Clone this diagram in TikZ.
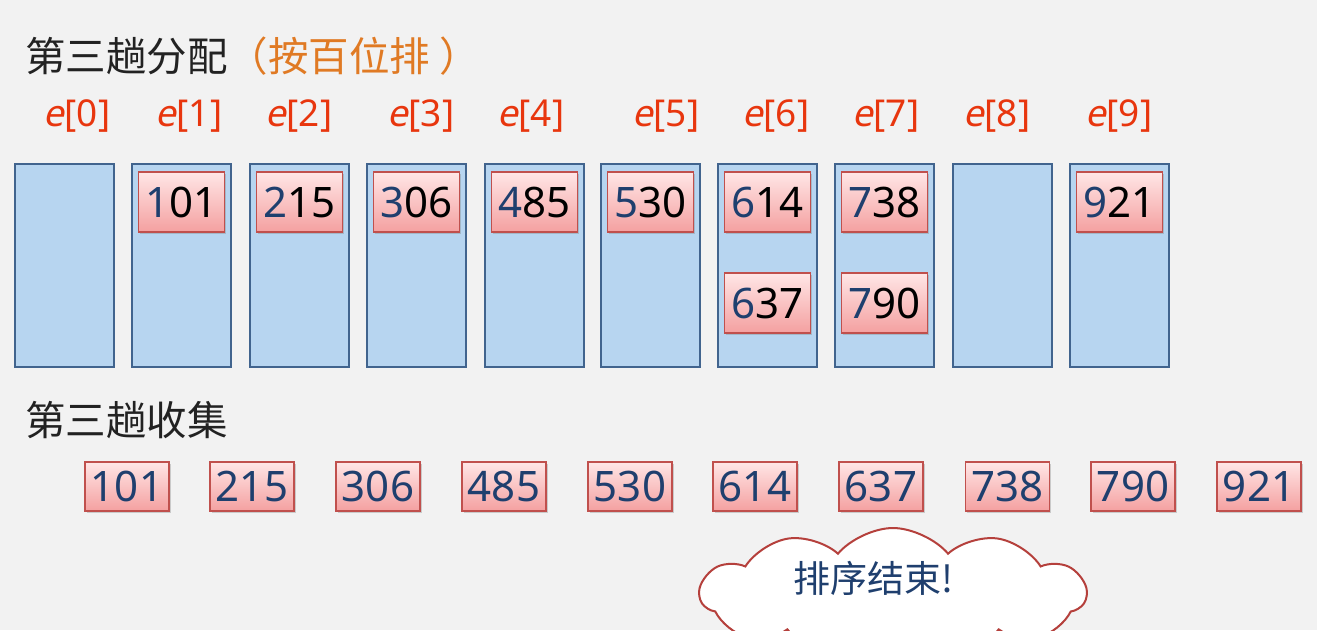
\documentclass[tikz,border=0pt]{standalone}
\usepackage{fontspec}
\setmainfont{Noto Sans}
\newfontfamily\cjk{Noto Sans CJK SC}
\newfontfamily\slantfont[FakeSlant=0.2]{Noto Sans}
\usetikzlibrary{shapes.symbols,shadows}
\definecolor{bgc}{HTML}{F2F2F2}
\definecolor{binfill}{HTML}{B7D5F0}
\definecolor{bindraw}{HTML}{41648E}
\definecolor{rectop}{HTML}{FFE6E6}
\definecolor{recbot}{HTML}{F4A0A0}
\definecolor{recdraw}{HTML}{C0504D}
\definecolor{numblue}{HTML}{1F3F6E}
\definecolor{lblred}{HTML}{E8360E}
\definecolor{titorange}{HTML}{E07A24}
\definecolor{titdark}{HTML}{222222}
\definecolor{clouddraw}{HTML}{B5403C}
\tikzset{
  bin/.style={draw=bindraw, line width=2.8pt, fill=binfill, minimum width=99, minimum height=203, inner sep=0},
  rec/.style={draw=recdraw, line width=1.3pt, top color=rectop, bottom color=recbot, minimum width=86, minimum height=60, inner sep=0,
     font=\fontsize{42}{46}\selectfont, text=black, drop shadow={shadow xshift=1.5pt, shadow yshift=-2pt, opacity=0.35}},
  crec/.style={rec, minimum width=84, minimum height=49, text=numblue},
  lbl/.style={text=lblred, font=\fontsize{37}{40}\selectfont, inner sep=0},
  title/.style={font=\cjk\fontsize{40.5}{44}\selectfont, text=titdark, inner sep=0, anchor=west},
}
\newcommand{\fd}[2]{\textcolor{numblue}{#1}#2}
\begin{document}
\begin{tikzpicture}[x=1pt,y=-1pt]
\useasboundingbox (0,0) rectangle (1317,630);
\clip (0,0) rectangle (1317,630);
\fill[bgc] (0,0) rectangle (1317,630);
% titles
\node[title] (t1) at (25,56) {第三趟分配\textcolor{titorange}{（按百位排 ）}};
\node[title] (t2) at (25,420) {第三趟收集};
% labels
\foreach \i/\x in {0/77,1/189,2/299,3/421,4/531,5/666,6/776,7/886,8/997,9/1119}{
  \node[lbl] (e\i) at (\x,116) {{\slantfont e}[\i]};
}
% bins
\foreach \i/\x in {0/14,1/131,2/249,3/366,4/484,5/600,6/717,7/834,8/952,9/1069}{
  \node[bin] (b\i) at (\x+50.5,265.5) {};
}
% records in bins
\node[rec] (r101) at (b1.center |- 0,202) {\fd{1}{01}};
\node[rec] (r215) at (b2.center |- 0,202) {\fd{2}{15}};
\node[rec] (r306) at (b3.center |- 0,202) {\fd{3}{06}};
\node[rec] (r485) at (b4.center |- 0,202) {\fd{4}{85}};
\node[rec] (r530) at (b5.center |- 0,202) {\fd{5}{30}};
\node[rec] (r614) at (b6.center |- 0,202) {\fd{6}{14}};
\node[rec] (r637) at (b6.center |- 0,303) {\fd{6}{37}};
\node[rec] (r738) at (b7.center |- 0,202) {\fd{7}{38}};
\node[rec] (r790) at (b7.center |- 0,303) {\fd{7}{90}};
\node[rec] (r921) at (b9.center |- 0,202) {\fd{9}{21}};
% collected
\foreach \v/\x in {101/127,215/252,306/378,485/504,530/630,614/755,637/881,738/1007.5,790/1133,921/1259}{
  \node[crec] (c\v) at (\x,486.5) {\v};
}
% cloud
\node[cloud, cloud puffs=11, cloud puff arc=100, aspect=3.2, draw=clouddraw, line width=2pt, fill=white,
      minimum width=386, minimum height=132, inner sep=0] (cloud) at (893,594) {};
\node[font=\cjk\fontsize{37}{40}\selectfont, text=numblue, inner sep=0] (msg) at (873,578) {排序结束!};
\end{tikzpicture}
\end{document}
